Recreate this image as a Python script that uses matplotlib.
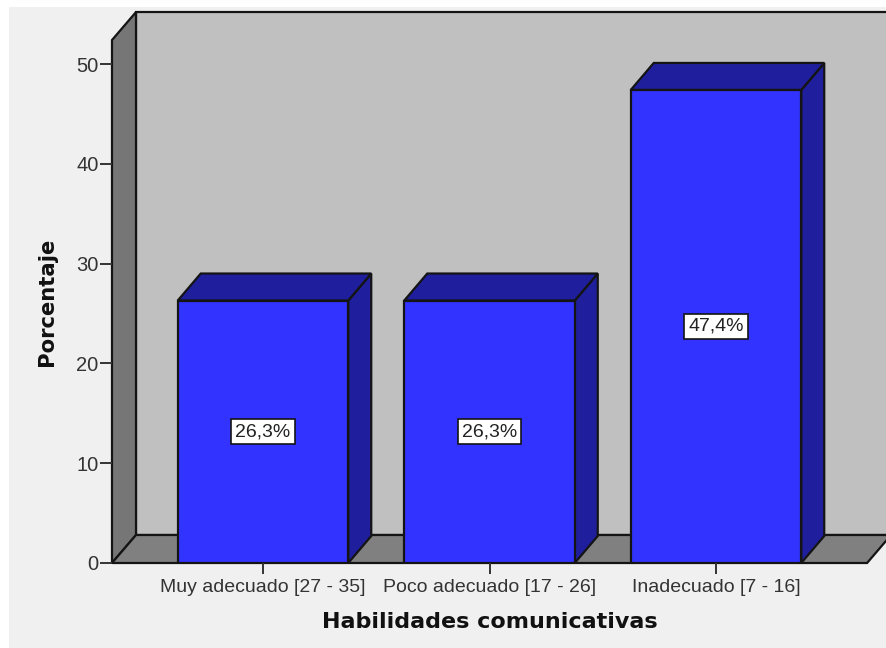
import matplotlib
matplotlib.use("Agg")
import matplotlib.pyplot as plt
from matplotlib.patches import Polygon, Rectangle

plt.rcParams['font.family'] = ['Liberation Sans', 'DejaVu Sans']

categorias = ["Muy adecuado [27 - 35]", "Poco adecuado [17 - 26]", "Inadecuado [7 - 16]"]
porcentajes = [26.3, 26.3, 47.4]
etiquetas = ["26,3%", "26,3%", "47,4%"]
ticks_y = [0, 10, 20, 30, 40, 50]

W, H = 886, 648
px_x = 226.5   # pixels per category
px_y = 9.98    # pixels per percent
x_izq = -151 / px_x
x_der = 2.667
y_top = 52.4
ancho = 170.5 / px_x
dx = 24 / px_x
dy = 28 / px_y
dx_barra = 23 / px_x
dy_barra = 27 / px_y

COL_FONDO = "#f0f0f0"
COL_PARED = "#c0c0c0"
COL_LADO = "#767676"
COL_SUELO = "#808080"
COL_BARRA = "#3333ff"
COL_OSC = "#1f1f9e"
LINEA = "#141414"

fig = plt.figure(figsize=(W / 100, H / 100), dpi=100, facecolor="white")
fig.add_artist(Rectangle((9 / W, 0), 1, 1 - 7 / H, transform=fig.transFigure,
                         facecolor=COL_FONDO, edgecolor="none", zorder=-5))

ax = fig.add_axes([112 / W, (H - 563) / H, 774 / W, 551 / H])
ax.patch.set_visible(False)
ax.set_xlim(x_izq, x_izq + 774 / px_x)
ax.set_ylim(0, 551 / px_y)
for s in ax.spines.values():
    s.set_visible(False)


def poly(puntos, color, z=1):
    ax.add_patch(Polygon(puntos, closed=True, facecolor=color, edgecolor=LINEA,
                         linewidth=1.6, joinstyle="miter", zorder=z, clip_on=False))


# paredes
x_fin = x_izq + 800 / px_x
poly([(x_izq + dx, dy), (x_fin, dy), (x_fin, y_top + dy), (x_izq + dx, y_top + dy)], COL_PARED)
poly([(x_izq, 0), (x_izq + dx, dy), (x_izq + dx, y_top + dy), (x_izq, y_top)], COL_LADO)
poly([(x_izq, 0), (x_der, 0), (x_der + dx, dy), (x_izq + dx, dy)], COL_SUELO)
ax.add_patch(Rectangle((x_izq + 774 / px_x, 0), 1, 60, facecolor=COL_FONDO, edgecolor="none", zorder=2, clip_on=False))

# barras
pos = list(range(len(categorias)))
for i, v in zip(pos, porcentajes):
    x0 = i - ancho / 2
    x1 = i + ancho / 2
    poly([(x1, 0), (x1 + dx_barra, dy_barra), (x1 + dx_barra, v + dy_barra), (x1, v)], COL_OSC, 3)
    poly([(x0, v), (x1, v), (x1 + dx_barra, v + dy_barra), (x0 + dx_barra, v + dy_barra)], COL_OSC, 3)
ax.bar(pos, porcentajes, width=ancho, color=COL_BARRA, edgecolor=LINEA, linewidth=1.6, zorder=4)

for i, v, t in zip(pos, porcentajes, etiquetas):
    ax.text(i, v / 2, t, ha="center", va="center", fontsize=14, color="#222222", zorder=6,
            bbox=dict(boxstyle="square,pad=0.2", facecolor="white", edgecolor=LINEA, linewidth=1.2))

ax.set_xticks(pos)
ax.set_xticklabels(categorias)
ax.set_yticks(ticks_y)
ax.tick_params(axis="x", length=8, width=1.4, color="#333333", pad=3.5, labelsize=14, labelcolor="#333333")
ax.tick_params(axis="y", length=8.6, width=1.4, color="#333333", pad=1, labelsize=14.5, labelcolor="#333333")

ax.set_xlabel("Habilidades comunicativas", fontsize=16, fontweight="bold", color="#111111", family="DejaVu Sans")
ax.xaxis.set_label_coords((490 - 112) / 774, -(622 - 563) / 551)
ax.xaxis.label.set_va("center")
ax.set_ylabel("Porcentaje", fontsize=15.2, fontweight="bold", color="#111111", family="DejaVu Sans")
ax.yaxis.set_label_coords((47 - 112) / 774, (563 - 302) / 551)
ax.yaxis.label.set_va("center")

fig.savefig("out.png", dpi=100, facecolor="white")
